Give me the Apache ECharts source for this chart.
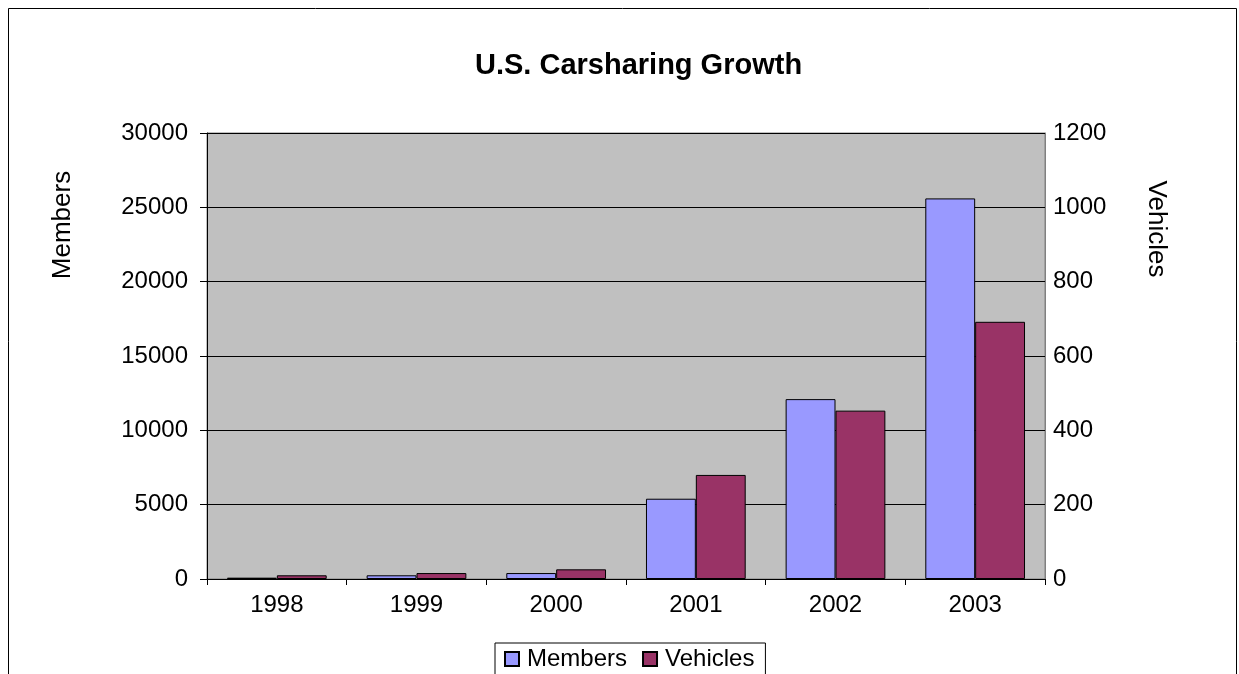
<!DOCTYPE html>
<html>
<head>
<meta charset="utf-8">
<script src="https://cdn.jsdelivr.net/npm/echarts@6/dist/echarts.min.js"></script>
<style>html,body{margin:0;padding:0;background:#fff;}#c{width:1239px;height:674px;}</style>
</head>
<body>
<div id="c"></div>
<script>
const years = ['1998', '1999', '2000', '2001', '2002', '2003'];
const members = [90, 250, 400, 5400, 12100, 25600];
const vehicles = [10, 16, 26, 280, 453, 692];
const membersTicks = [0, 5000, 10000, 15000, 20000, 25000, 30000];
const vehiclesTicks = [0, 200, 400, 600, 800, 1000, 1200];

const chart = echarts.init(document.getElementById('c'));
const font = 'Arial, "Liberation Sans", sans-serif';
chart.setOption({
  animation: false,
  backgroundColor: '#ffffff',
  title: {
    text: 'U.S. Carsharing Growth',
    left: 470,
    top: 46,
    textStyle: { fontFamily: font, fontSize: 29, fontWeight: 'bold', color: '#000' }
  },
  graphic: [
    { type: 'rect', shape: { x: 8.5, y: 8.5, width: 1228, height: 700 },
      style: { fill: 'none', stroke: '#000', lineWidth: 1 }, z: -1 },
    { type: 'text', x: 63, y: 225, rotation: Math.PI / 2,
      style: { text: 'Members', font: '26px ' + font, fill: '#000', textAlign: 'center', textVerticalAlign: 'middle' } },
    { type: 'text', x: 1156, y: 229, rotation: -Math.PI / 2,
      style: { text: 'Vehicles', font: '26px ' + font, fill: '#000', textAlign: 'center', textVerticalAlign: 'middle' } }
  ],
  legend: {
    data: ['Members', 'Vehicles'],
    left: 495,
    top: 643,
    icon: 'rect',
    itemWidth: 14,
    itemHeight: 14,
    itemGap: 15,
    padding: [4, 11, 6, 9],
    borderColor: '#000',
    borderWidth: 1,
    borderRadius: 0,
    backgroundColor: '#fff',
    textStyle: { fontFamily: font, fontSize: 24, color: '#000', padding: [0, 0, 0, 3] }
  },
  grid: {
    left: 207, right: 194, top: 133, bottom: 95,
    show: true, backgroundColor: '#C0C0C0', borderColor: '#808080', borderWidth: 1
  },
  xAxis: {
    type: 'category',
    data: years,
    axisLine: { lineStyle: { color: '#000', width: 1 } },
    axisTick: { show: true, length: 6, lineStyle: { color: '#000' } },
    axisLabel: { fontFamily: font, fontSize: 24, color: '#000', margin: 14 }
  },
  yAxis: [
    {
      type: 'value', min: 0, max: 30000, interval: 5000,
      axisLine: { show: true, lineStyle: { color: '#000', width: 1 } },
      axisTick: { show: true, length: 7, lineStyle: { color: '#000' } },
      axisLabel: { fontFamily: font, fontSize: 24, color: '#000', margin: 19,
        formatter: v => membersTicks.includes(v) ? String(v) : '' },
      splitLine: { show: true, lineStyle: { color: '#000', width: 1 } }
    },
    {
      type: 'value', min: 0, max: 1200, interval: 200, position: 'right',
      axisLine: { show: true, lineStyle: { color: '#808080', width: 1 } },
      axisTick: { show: true, inside: true, length: 5, lineStyle: { color: '#000' } },
      axisLabel: { fontFamily: font, fontSize: 24, color: '#000', margin: 8,
        formatter: v => vehiclesTicks.includes(v) ? String(v) : '' },
      splitLine: { show: false }
    }
  ],
  series: [
    {
      name: 'Members', type: 'bar', yAxisIndex: 0, data: members,
      barGap: '0%', barCategoryGap: '28.6%',
      itemStyle: { color: '#9999FF', borderColor: '#000', borderWidth: 1 }
    },
    {
      name: 'Vehicles', type: 'bar', yAxisIndex: 1, data: vehicles,
      barGap: '0%', barCategoryGap: '28.6%',
      itemStyle: { color: '#993366', borderColor: '#000', borderWidth: 1 }
    }
  ]
});
</script>
</body>
</html>
